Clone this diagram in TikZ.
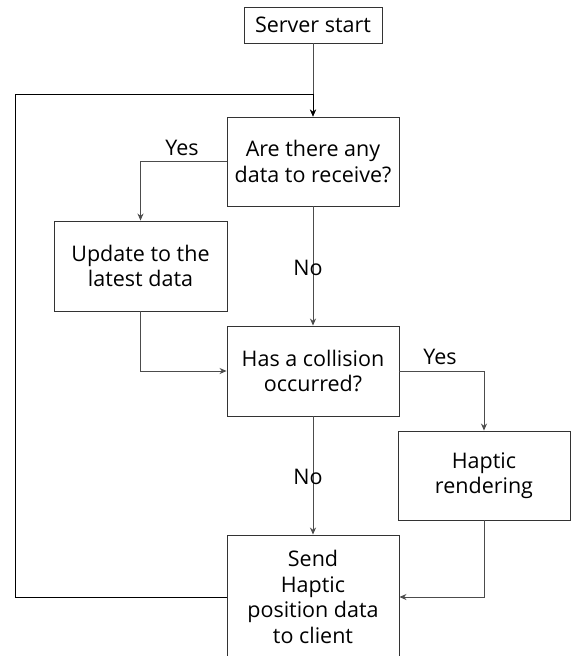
\documentclass[tikz,border=0pt]{standalone}
\usepackage{fontspec}
\setmainfont{Open Sans}
\usetikzlibrary{arrows.meta}
\begin{document}
\begin{tikzpicture}[x=1pt, y=-1pt,
  every node/.style={font=\fontsize{21.5}{25.5}\selectfont, text=black},
  stepbox/.style={draw=black!80, line width=0.9pt, align=center, inner sep=0pt},
  flow/.style={draw=black!70, line width=0.9pt, -{Stealth[length=7pt,width=6pt]}},
  lbl/.style={inner sep=1pt}]
  \useasboundingbox (0,0) rectangle (573,656);
  \fill[white] (0,0) rectangle (573,656);

  % process boxes
  \node[stepbox, minimum width=138pt, minimum height=36pt] (start) at (313,25) {Server start};
  \node[stepbox, minimum width=172pt, minimum height=89pt] (recv) at (313,161.5) {Are there any\\data to receive?};
  \node[stepbox, minimum width=173pt, minimum height=90pt] (upd) at (140.5,266) {Update to the\\latest data};
  \node[stepbox, minimum width=172pt, minimum height=90pt] (coll) at (313,371) {Has a collision\\occurred?};
  \node[stepbox, minimum width=172pt, minimum height=89pt] (hap) at (484,475.5) {Haptic\\rendering};
  \node[stepbox, minimum width=172pt, minimum height=124pt] (send) at (313,597) {Send\\Haptic\\position data\\to client};

  \coordinate (loopL) at (15,94);

  % connectors
  \draw[flow] (start.south) -- (recv.north);
  \draw[flow, draw=black] (send.west) -| (loopL) -| (recv.north);
  \draw[flow] (recv.west) -| (upd.north);
  \draw[flow] (recv.south) -- (coll.north);
  \draw[flow] (upd.south) |- (coll.west);
  \draw[flow] (coll.east) -| (hap.north);
  \draw[flow] (coll.south) -- (send.north);
  \draw[flow] (hap.south) |- (send.east);

  % branch labels
  \node[lbl] (yes1) at (182,148) {Yes};
  \node[lbl] (no1) at (308,268) {No};
  \node[lbl] (yes2) at (440,357) {Yes};
  \node[lbl] (no2) at (308,477) {No};
\end{tikzpicture}
\end{document}
